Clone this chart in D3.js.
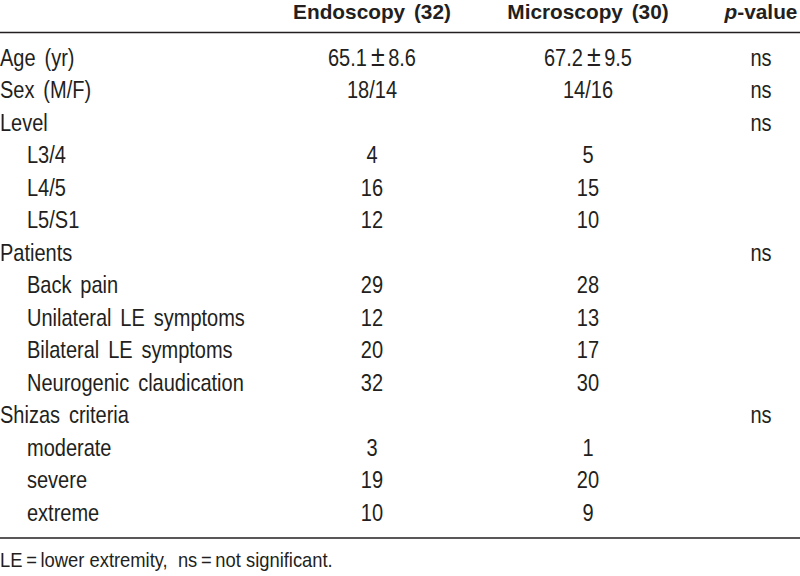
<!DOCTYPE html>
<html>
<head>
<meta charset="utf-8">
<script src="https://cdn.jsdelivr.net/npm/d3@7"></script>
<style>
  html, body { margin: 0; padding: 0; background: #fff; }
  svg { display: block; }
  text { font-family: "Liberation Sans", Arial, sans-serif; fill: #231f20; }
</style>
</head>
<body>
<svg id="chart" width="800" height="576"></svg>
<script>
// ---- data ----
const columns = ["Endoscopy (32)", "Microscopy (30)", "p-value"];
const rowLabels = ["Age (yr)", "Sex (M/F)", "Level", "L3/4", "L4/5", "L5/S1", "Patients",
  "Back pain", "Unilateral LE symptoms", "Bilateral LE symptoms", "Neurogenic claudication",
  "Shizas criteria", "moderate", "severe", "extreme"];
const rowIndent = [0, 0, 0, 1, 1, 1, 0, 1, 1, 1, 1, 0, 1, 1, 1];
const endoscopy = ["65.1\u00b18.6", "18/14", "", "4", "16", "12", "", "29", "12", "20", "32", "", "3", "19", "10"];
const microscopy = ["67.2\u00b19.5", "14/16", "", "5", "15", "10", "", "28", "13", "17", "30", "", "1", "20", "9"];
const pvalues = ["ns", "ns", "ns", "", "", "", "ns", "", "", "", "", "ns", "", "", ""];
const footnote = "LE\u2009=\u2009lower extremity,  ns\u2009=\u2009not significant.";

// ---- layout ----
const svg = d3.select("#chart");
const W = 800;
const y = d3.scaleLinear().domain([0, rowLabels.length - 1]).range([66, 521]);
const x = d3.scaleOrdinal().domain(columns).range([372, 588, 761]);
const indentX = d3.scaleOrdinal().domain([0, 1]).range([0, 27]);
const bodySize = 24;

// condensed look: squeeze each text horizontally around its anchor x
function squeeze(sel, k) {
  sel.each(function () {
    const ax = +this.getAttribute("x");
    this.setAttribute("transform", `translate(${ax},0) scale(${k},1) translate(${-ax},0)`);
  });
}

// header
const head = svg.append("g").attr("font-weight", "bold").attr("font-size", 21);
const hText = head.selectAll("text.h").data(columns.slice(0, 2)).join("text")
  .attr("class", "h")
  .attr("x", d => x(d)).attr("y", 19)
  .attr("text-anchor", "middle")
  .attr("word-spacing", 3)
  .text(d => d);
const pv = head.append("text").attr("x", x(columns[2])).attr("y", 19).attr("text-anchor", "middle");
pv.append("tspan").attr("font-style", "italic").text("p");
pv.append("tspan").text("-value");
const kHead = 158 / hText.node().getComputedTextLength();
squeeze(head.selectAll("text"), kHead);

// rules
const rules = [32.5, 538];
svg.selectAll("line.rule").data(rules).join("line")
  .attr("class", "rule")
  .attr("x1", 0).attr("x2", W)
  .attr("y1", d => d).attr("y2", d => d)
  .attr("stroke", "#231f20").attr("stroke-width", 1.6);

// body
const rows = rowLabels.map((label, i) => ({ label, i, indent: rowIndent[i], vals: [endoscopy[i], microscopy[i], pvalues[i]] }));
const body = svg.append("g").attr("font-size", bodySize).attr("word-spacing", 4);
const labs = body.selectAll("text.lab").data(rows).join("text")
  .attr("class", "lab")
  .attr("x", d => indentX(d.indent)).attr("y", d => y(d.i))
  .text(d => d.label);

const cells = rows.flatMap(r => r.vals.map((v, j) => ({ v, col: columns[j], i: r.i }))).filter(c => c.v !== "");
body.selectAll("text.cell").data(cells).join("text")
  .attr("class", "cell")
  .attr("x", d => x(d.col)).attr("y", d => y(d.i))
  .attr("text-anchor", "middle")
  .each(function (d) {
    const t = d3.select(this);
    const parts = d.v.split("\u00b1");
    if (parts.length === 2) {
      t.append("tspan").text(parts[0]);
      t.append("tspan").attr("font-size", 30).attr("dx", 5).text("\u00b1");
      t.append("tspan").attr("dx", 4).text(parts[1]);
    } else {
      t.text(d.v);
    }
  });
const kBody = 217 / labs.filter(d => d.i === 10).node().getComputedTextLength();
squeeze(body.selectAll("text"), kBody);

// footnote
const fn = svg.append("text").attr("x", 0).attr("y", 567).attr("font-size", 20)
  .attr("xml:space", "preserve").style("white-space", "pre")
  .text(footnote);
squeeze(fn, 333 / fn.node().getComputedTextLength());
</script>
</body>
</html>
